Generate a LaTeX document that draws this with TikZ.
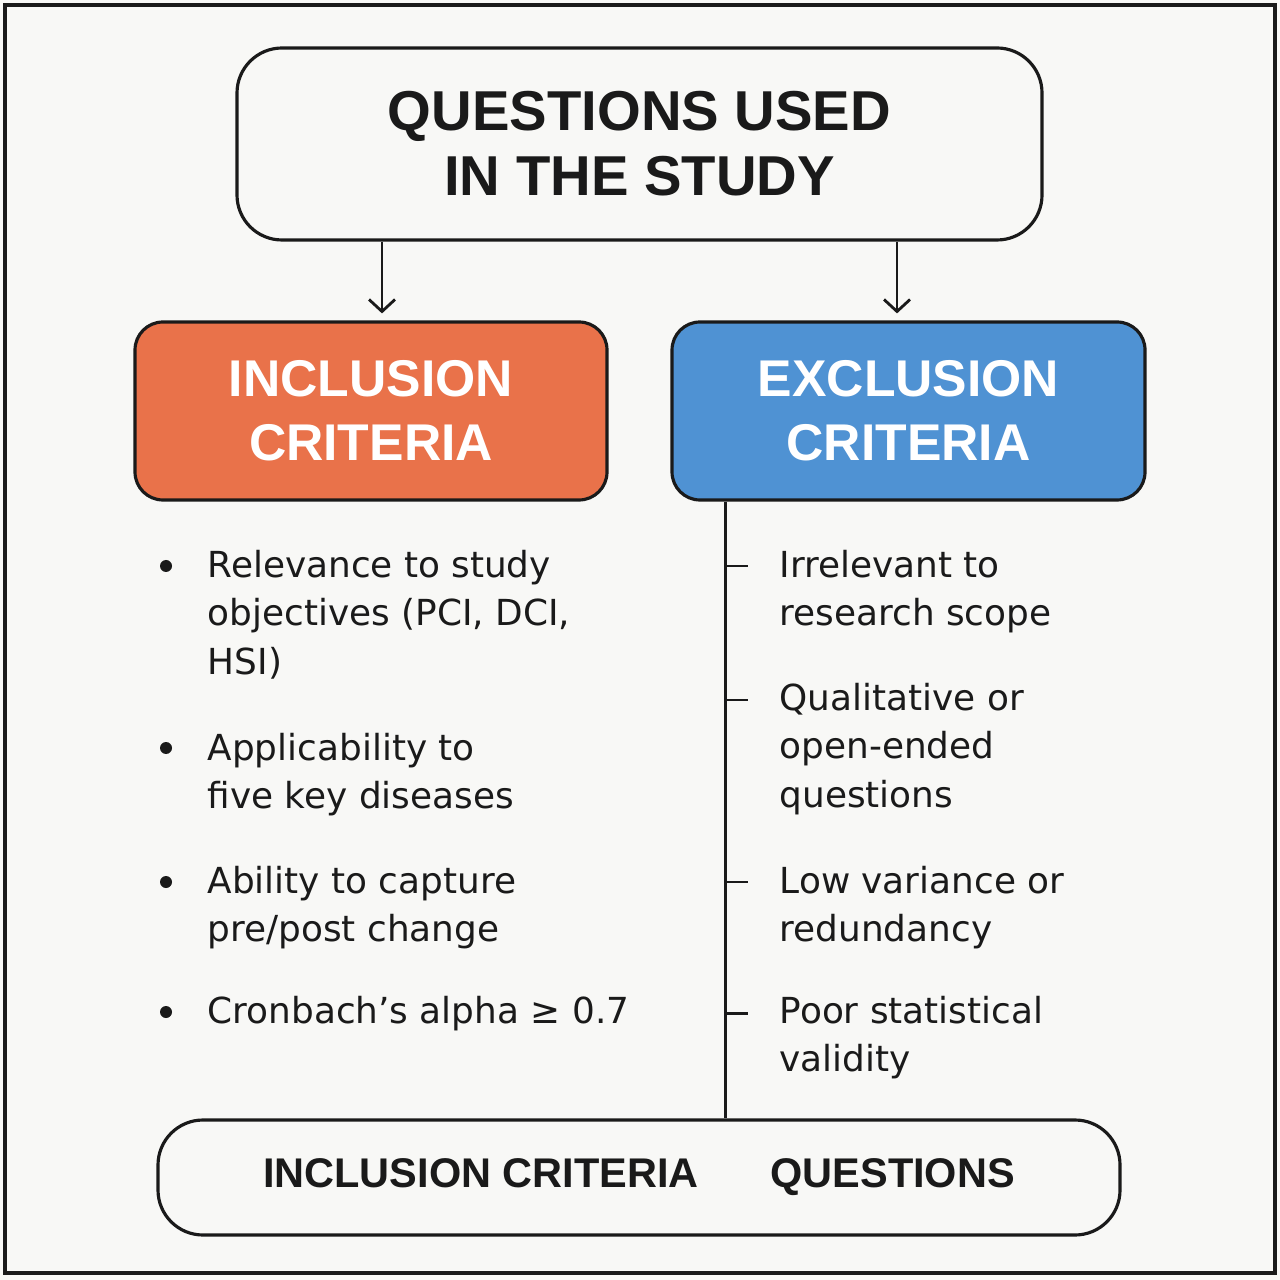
\documentclass[tikz,border=0pt]{standalone}
\usepackage{fontspec}
\setmainfont{DejaVu Sans}
\newfontfamily\headfont{Liberation Sans}
\usetikzlibrary{arrows.meta}
\definecolor{inclorange}{RGB}{233,114,74}
\definecolor{exclblue}{RGB}{79,146,211}
\definecolor{paper}{RGB}{248,248,246}
\definecolor{ink}{RGB}{26,26,26}

\begin{document}
\begin{tikzpicture}[x=1cm, y=-1cm,
box/.style = {draw = ink, line width = 0.9pt, align = center, text = ink},
head/.style = {box, rounded corners = 4.5mm, fill = paper, font = \headfont\bfseries\fontsize{16}{18.5}\selectfont},
crit/.style = {box, rounded corners = 2.8mm, text = white, font = \headfont\bfseries\fontsize{14.7}{18.2}\selectfont},
item/.style = {anchor = base west, align = left, inner sep = 0pt, text = ink, font = \fontsize{10.2}{13.9}\selectfont},
link/.style = {-{Straight Barb[length = 1.2mm, width = 2.6mm]}, line width = 0.8pt, draw = ink}]

% page and frame
\useasboundingbox (0,0) rectangle (12.8,12.8);
\fill[paper] (0,0) rectangle (12.8,12.8);
\draw[ink, line width = 1pt] (0.05,0.05) rectangle (12.75,12.73);

% boxes
\node[head, minimum width = 80.5mm, minimum height = 19.2mm] (title) at (6.395, 1.44) {QUESTIONS USED\\IN THE STUDY};
\node[crit, fill = inclorange, minimum width = 47.2mm, minimum height = 17.8mm] (incl) at (3.71, 4.11) {INCLUSION\\CRITERIA};
\node[crit, fill = exclblue, minimum width = 47.3mm, minimum height = 17.8mm] (excl) at (9.085, 4.11) {EXCLUSION\\CRITERIA};
\node[head, rounded corners = 4.5mm, minimum width = 96.2mm, minimum height = 11.5mm,
  font = \headfont\bfseries\fontsize{11.8}{14}\selectfont] (summary) at (6.39, 11.775) {INCLUSION CRITERIA\hspace{7.2mm}QUESTIONS};

% connect boxes
\coordinate (a-1) at (3.82, 0);
\coordinate (a-2) at (8.97, 0);
\coordinate (spine) at (7.25, 0);
\draw[link, shorten >= 0.7mm] (title.south -| a-1) -- (incl.north -| a-1);
\draw[link, shorten >= 0.7mm] (title.south -| a-2) -- (excl.north -| a-2);
\draw[ink, line width = 0.85pt] (excl.south -| spine) -- (summary.north -| spine);

% inclusion items (base = last line)
\node[item] (in-1) at (2.07, 6.748) {Relevance to study\\objectives (PCI, DCI,\\HSI)};
\node[item] (in-2) at (2.07, 8.089) {Applicability to\\five key diseases};
\node[item] (in-3) at (2.07, 9.419) {Ability to capture\\pre/post change};
\node[item] (in-4) at (2.07, 10.23) {Cronbach’s alpha ≥ 0.7};
\foreach \y in {5.66, 7.48, 8.82, 10.12}
  \fill[ink] (1.66, \y) circle (0.06);

% exclusion items
\node[item] (ex-1) at (7.79, 6.259) {Irrelevant to\\research scope};
\node[item] (ex-2) at (7.79, 8.078) {Qualitative or\\open-ended\\questions};
\node[item] (ex-3) at (7.79, 9.419) {Low variance or\\redundancy};
\node[item] (ex-4) at (7.79, 10.719) {Poor statistical\\validity};
\foreach \y in {5.66, 7.00, 8.82, 10.13}
  \draw[ink, line width = 0.85pt] (7.25, \y) -- (7.48, \y);

\end{tikzpicture}
\end{document}
